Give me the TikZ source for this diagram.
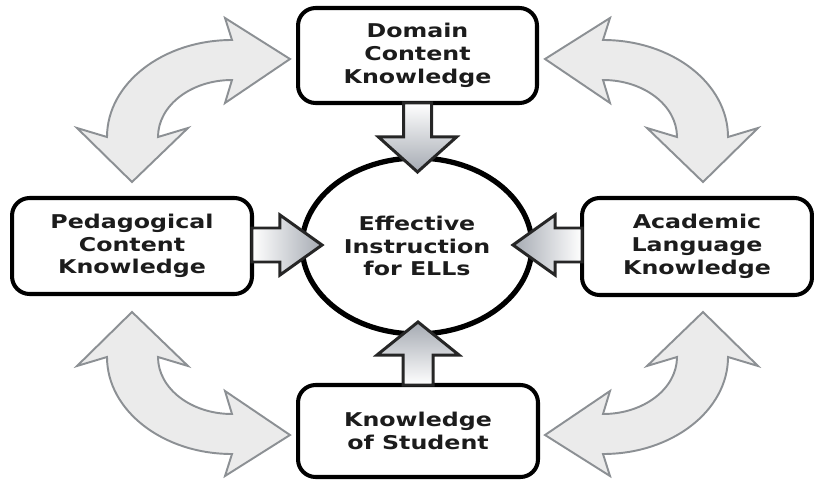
\documentclass[tikz,border=0pt]{standalone}
\usepackage{fontspec}
\newfontfamily\boxfont[FakeStretch=1.25]{DejaVu Sans}
\usetikzlibrary{shapes.geometric,calc}
\definecolor{txtgray}{RGB}{28,28,28}
\definecolor{headgray}{RGB}{165,170,178}
\definecolor{bendfill}{RGB}{235,235,235}
\definecolor{bendline}{RGB}{140,144,148}
\tikzset{
  kbox/.style={draw,line width=2.3pt,rounded corners=10pt,fill=white,align=center,
    inner sep=0pt,outer sep=0pt,text=txtgray,
    font=\boxfont\bfseries\fontsize{10.8}{12.9}\selectfont},
  effnode/.style={kbox,ellipse,line width=3pt,minimum width=4.6cm,minimum height=3.52cm},
  blockarr/.style={draw=black!85,line width=1.7pt,line join=miter},
  bendarr/.style={draw=bendline,fill=bendfill,line width=1.1pt,line join=miter}
}
% one bent two-headed arrow, upper left copy
\newcommand{\bendarrow}{%
  \draw[bendarr] (290,59) -- (225,18) -- (232,40)
    arc[start angle=-90,end angle=-180,x radius=125,y radius=97]
    -- (77,128) -- (132,182) -- (188,128) -- (158,137)
    arc[start angle=180,end angle=270,x radius=74,y radius=57]
    -- (225,103) -- cycle;}

\begin{document}
\begin{tikzpicture}[x=0.02cm,y=-0.02cm]
\useasboundingbox (0,0) rectangle (814,480);

% bent arrows between the four boxes
\begin{scope} \bendarrow \end{scope}
\begin{scope}[shift={(835,0)},xscale=-1] \bendarrow \end{scope}
\begin{scope}[shift={(0,494)},yscale=-1] \bendarrow \end{scope}
\begin{scope}[shift={(835,494)},xscale=-1,yscale=-1] \bendarrow \end{scope}

\node[effnode] (eff) at (417,246) {Effective\\Instruction\\for ELLs};
\node[kbox,minimum width=4.78cm,minimum height=1.9cm] (dom) at (417.5,55.5) {Domain\\Content\\Knowledge};
\node[kbox,minimum width=4.8cm,minimum height=1.92cm] (ped) at (132,246) {Pedagogical\\Content\\Knowledge};
\node[kbox,minimum width=4.6cm,minimum height=1.94cm] (aca) at (697,246.5) {Academic\\Language\\Knowledge};
\node[kbox,minimum width=4.8cm,minimum height=1.84cm] (stu) at (418,431) {Knowledge\\of Student};

% block arrows into the centre
\draw[blockarr,top color=white,bottom color=headgray]
  ($(dom.south)+(-14,0)$) -- ++(0,34) -- ++(-25,0) -- ($(eff.north)+(0.5,14)$)
  -- ($(dom.south)+(39,34)$) -- ++(-25,0) -- ($(dom.south)+(14,0)$) -- cycle;
\draw[blockarr,top color=headgray,bottom color=white]
  ($(stu.north)+(-15,0)$) -- ++(0,-30) -- ++(-26,0) -- ($(eff.south)+(1,-12)$)
  -- ($(stu.north)+(41,-30)$) -- ++(-26,0) -- ($(stu.north)+(15,0)$) -- cycle;
\draw[blockarr,left color=white,right color=headgray]
  ($(ped.east)+(0,-18)$) -- ++(28,0) -- ++(0,-13) -- ($(eff.west)+(20,-1)$)
  -- ($(ped.east)+(28,29)$) -- ++(0,-13) -- ($(ped.east)+(0,16)$) -- cycle;
\draw[blockarr,left color=headgray,right color=white]
  ($(aca.west)+(0,-18.5)$) -- ++(-27,0) -- ++(0,-13) -- ($(eff.east)+(-19,-1)$)
  -- ($(aca.west)+(-27,28.5)$) -- ++(0,-13) -- ($(aca.west)+(0,15.5)$) -- cycle;
\end{tikzpicture}
\end{document}
